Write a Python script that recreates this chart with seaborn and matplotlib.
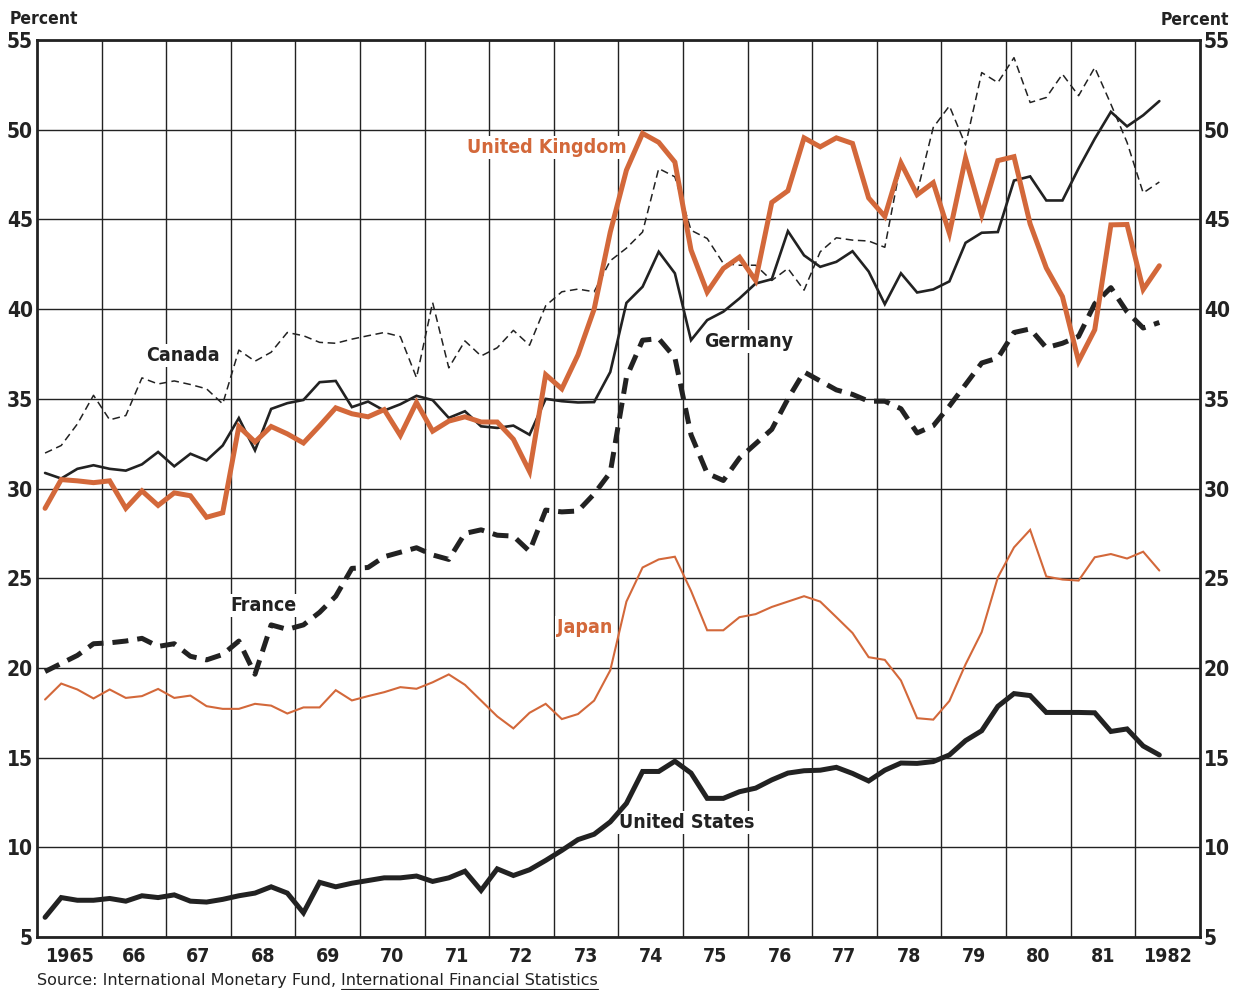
import numpy as np
import pandas as pd
import seaborn as sns
import matplotlib.pyplot as plt
from matplotlib.ticker import FixedLocator, NullFormatter

# quarterly data, 1965 Q1 .. 1982 Q2 (percent)
start_year = 1965
n_quarters = 70

united_states = [6.1, 7.2, 7.05, 7.05, 7.15, 7.0, 7.3, 7.2, 7.35, 7.0,
                 6.95, 7.1, 7.3, 7.45, 7.8, 7.45, 6.35, 8.05, 7.8, 8.0,
                 8.15, 8.3, 8.3, 8.4, 8.1, 8.3, 8.67, 7.6, 8.8, 8.43,
                 8.75, 9.27, 9.83, 10.43, 10.73, 11.42, 12.45, 14.23, 14.23, 14.8,
                 14.14, 12.73, 12.73, 13.1, 13.3, 13.76, 14.14, 14.27, 14.3, 14.46,
                 14.12, 13.7, 14.3, 14.7, 14.68, 14.78, 15.15, 15.95, 16.5, 17.86,
                 18.57, 18.46, 17.52, 17.52, 17.52, 17.5, 16.46, 16.6, 15.65, 15.15]

japan = [18.24, 19.13, 18.8, 18.3, 18.8, 18.33, 18.43, 18.83, 18.33, 18.46,
         17.87, 17.72, 17.72, 18.0, 17.9, 17.46, 17.8, 17.8, 18.76, 18.19,
         18.43, 18.65, 18.93, 18.84, 19.2, 19.64, 19.06, 18.18, 17.3, 16.63,
         17.5, 18.0, 17.15, 17.43, 18.18, 19.87, 23.7, 25.6, 26.05, 26.2,
         24.3, 22.1, 22.1, 22.83, 23.0, 23.4, 23.7, 24.0, 23.7, 22.83,
         21.95, 20.6, 20.45, 19.3, 17.2, 17.12, 18.16, 20.2, 22.0, 25.05,
         26.72, 27.7, 25.1, 24.93, 24.87, 26.17, 26.35, 26.1, 26.48, 25.43]

france = [19.8, 20.25, 20.7, 21.35, 21.4, 21.5, 21.65, 21.2, 21.35, 20.65,
          20.45, 20.75, 21.5, 19.65, 22.4, 22.15, 22.4, 23.1, 24.0, 25.55,
          25.6, 26.2, 26.45, 26.7, 26.3, 26.05, 27.5, 27.7, 27.4, 27.35,
          26.5, 28.8, 28.7, 28.75, 29.7, 30.9, 36.2, 38.27, 38.36, 37.3,
          33.0, 30.85, 30.45, 31.7, 32.5, 33.3, 35.0, 36.5, 36.0, 35.5,
          35.25, 34.87, 34.87, 34.45, 33.1, 33.5, 34.6, 35.8, 37.0, 37.28,
          38.7, 38.9, 37.85, 38.1, 38.48, 40.3, 41.2, 39.85, 38.95, 39.26]

united_kingdom = [28.9, 30.5, 30.43, 30.33, 30.43, 28.9, 29.87, 29.06, 29.76, 29.6,
                  28.4, 28.65, 33.46, 32.6, 33.46, 33.05, 32.54, 33.5, 34.5, 34.17,
                  34.0, 34.4, 32.96, 34.8, 33.2, 33.76, 34.0, 33.71, 33.71, 32.75,
                  30.95, 36.35, 35.56, 37.45, 40.0, 44.3, 47.75, 49.8, 49.3, 48.2,
                  43.3, 40.95, 42.27, 42.9, 41.6, 45.95, 46.6, 49.55, 49.05, 49.55,
                  49.24, 46.2, 45.17, 48.15, 46.38, 47.05, 44.23, 48.42, 45.25, 48.28,
                  48.5, 44.75, 42.3, 40.7, 37.1, 38.85, 44.7, 44.72, 41.1, 42.42]

germany = [30.87, 30.56, 31.1, 31.3, 31.1, 31.0, 31.35, 32.04, 31.24, 31.94,
           31.57, 32.4, 33.93, 32.13, 34.44, 34.76, 34.94, 35.93, 36.0, 34.54,
           34.85, 34.35, 34.7, 35.17, 34.93, 33.94, 34.31, 33.47, 33.38, 33.51,
           33.0, 35.0, 34.87, 34.8, 34.82, 36.5, 40.35, 41.25, 43.2, 42.0,
           38.27, 39.39, 39.86, 40.6, 41.43, 41.67, 44.35, 43.0, 42.36, 42.64,
           43.23, 42.1, 40.28, 42.0, 40.93, 41.1, 41.55, 43.7, 44.26, 44.3,
           47.17, 47.4, 46.06, 46.06, 47.85, 49.5, 51.0, 50.19, 50.81, 51.6]

canada = [31.98, 32.4, 33.6, 35.2, 33.83, 34.07, 36.17, 35.83, 36.0, 35.8,
          35.56, 34.72, 37.72, 37.1, 37.6, 38.7, 38.52, 38.15, 38.1, 38.33,
          38.52, 38.7, 38.47, 36.18, 40.37, 36.73, 38.23, 37.39, 37.85, 38.82,
          37.99, 40.19, 40.97, 41.12, 40.97, 42.7, 43.4, 44.3, 47.84, 47.38,
          44.4, 43.94, 42.55, 42.45, 42.45, 41.6, 42.27, 41.06, 43.2, 43.98,
          43.85, 43.8, 43.45, 48.15, 46.5, 50.13, 51.33, 49.15, 53.19, 52.63,
          54.02, 51.52, 51.8, 53.1, 51.9, 53.47, 51.43, 49.3, 46.48, 47.09]

year_labels = ['1965', '66', '67', '68', '69', '70', '71', '72', '73',
               '74', '75', '76', '77', '78', '79', '80', '81', '1982']
y_ticks = [5, 10, 15, 20, 25, 30, 35, 40, 45, 50, 55]

ORANGE = '#d3683a'
INK = '#222222'

x_q = start_year + np.arange(n_quarters) / 4 + 0.125
series = {
    'Canada': canada,
    'Germany': germany,
    'France': france,
    'Japan': japan,
    'United Kingdom': united_kingdom,
    'United States': united_states,
}
df = pd.concat([pd.DataFrame({'x': x_q, 'value': v, 'country': k})
                for k, v in series.items()], ignore_index=True)

styles = {
    'Canada': dict(color=INK, lw=1.1, dashes=(5, 3)),
    'Germany': dict(color=INK, lw=1.9, dashes=None),
    'France': dict(color=INK, lw=3.6, dashes=(3.2, 1.8)),
    'Japan': dict(color=ORANGE, lw=1.5, dashes=None),
    'United Kingdom': dict(color=ORANGE, lw=3.6, dashes=None),
    'United States': dict(color=INK, lw=3.6, dashes=None),
}

sns.set_theme(style='white')
plt.rcParams['font.family'] = ['DejaVu Sans']
plt.rcParams['font.stretch'] = 'condensed'

fig = plt.figure(figsize=(12.33, 9.9), dpi=100)
ax = fig.add_axes([0.030, 0.0535, 0.943, 0.906])
ax.set_axisbelow(True)

for name, st in styles.items():
    sub = df[df['country'] == name]
    sns.lineplot(data=sub, x='x', y='value', ax=ax, color=st['color'],
                 linewidth=st['lw'], legend=False, zorder=3)
    ln = ax.lines[-1]
    ln.set_solid_joinstyle('miter')
    if st['dashes']:
        ln.set_dashes(st['dashes'])
        ln.set_dash_capstyle('butt')

ax.set_xlim(1965, 1983)
ax.set_ylim(5, 55)

# gridlines at year boundaries, year labels in the middle of each year
ax.xaxis.set_major_locator(FixedLocator(np.arange(1966, 1983)))
ax.xaxis.set_major_formatter(NullFormatter())
ax.xaxis.set_minor_locator(FixedLocator(np.arange(1965, 1983) + 0.5))
ax.set_xticklabels(year_labels, minor=True)
ax.set_yticks(y_ticks)
ax.grid(True, which='major', color=INK, linewidth=1.0)
ax.tick_params(axis='x', which='both', length=0, pad=7)
ax.tick_params(axis='x', which='minor', labelsize=14)
for lab in ax.get_xticklabels(minor=True):
    lab.set_fontweight('bold')
    lab.set_color(INK)

ax.tick_params(axis='y', length=0, pad=3, labelsize=15, labelright=True,
               labelleft=True)
for lab in ax.get_yticklabels():
    lab.set_fontweight('bold')
    lab.set_color(INK)
ax.set_xlabel('')
ax.set_ylabel('')
for sp in ax.spines.values():
    sp.set_visible(True)
    sp.set_color(INK)
    sp.set_linewidth(2.0)

# series labels (white box hides the grid, not the lines)
lab_kw = dict(ha='center', va='center', fontsize=14, fontweight='bold', zorder=2,
              bbox=dict(facecolor='white', edgecolor='none', pad=1.5))
ax.text(1972.9, 49.0, 'United Kingdom', color=ORANGE, **lab_kw)
ax.text(1967.26, 37.4, 'Canada', color=INK, **lab_kw)
ax.text(1976.02, 38.2, 'Germany', color=INK, **lab_kw)
ax.text(1968.51, 23.47, 'France', color=INK, **lab_kw)
ax.text(1973.48, 22.25, 'Japan', color=ORANGE, **lab_kw)
ax.text(1975.06, 11.4, 'United States', color=INK, **lab_kw)

fig.text(0.008, 0.972, 'Percent', fontsize=12.5, fontweight='bold', color=INK,
         ha='left', va='bottom')
fig.text(0.997, 0.971, 'Percent', fontsize=12.5, fontweight='bold', color=INK,
         ha='right', va='bottom')

src_kw = dict(fontsize=11.5, color=INK, fontstretch='expanded', ha='left',
              va='bottom')
src1 = fig.text(0.030, 0.002, 'Source: International Monetary Fund, ', **src_kw)
fig.canvas.draw()
bb = src1.get_window_extent()
src2 = fig.text(bb.x1 / fig.bbox.width, 0.002,
                'International Financial Statistics', **src_kw)
fig.canvas.draw()
bb2 = src2.get_window_extent()
fig.add_artist(plt.Line2D([bb2.x0 / fig.bbox.width, bb2.x1 / fig.bbox.width],
                          [0.0015, 0.0015], color=INK, lw=0.8))

fig.savefig('out.png', dpi=100, facecolor='white')
